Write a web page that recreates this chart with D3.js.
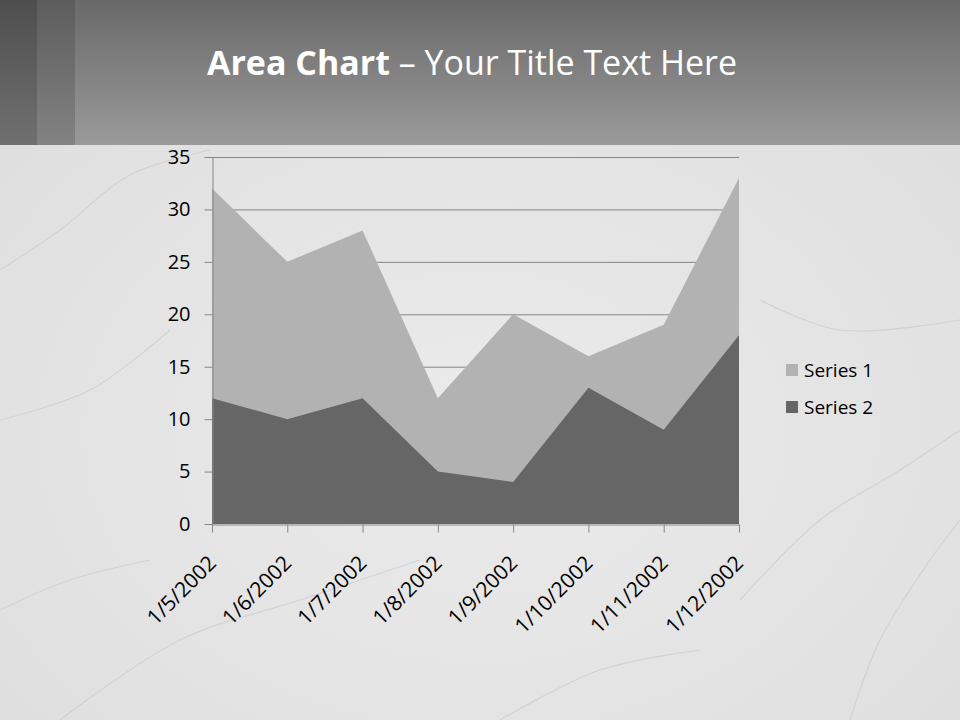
<!DOCTYPE html>
<html><head><meta charset="utf-8">
<script src="https://cdn.jsdelivr.net/npm/d3@7"></script>
<style>html,body{margin:0;padding:0;background:#e5e5e5;}svg{display:block;}</style>
</head><body>
<svg id="c" width="960" height="720"></svg>
<script>
const categories = ["1/5/2002","1/6/2002","1/7/2002","1/8/2002","1/9/2002","1/10/2002","1/11/2002","1/12/2002"];
const series1 = [32, 25, 28, 12, 20, 16, 19, 33];
const series2 = [12, 10, 12, 5, 4, 13, 9, 18];
const seriesNames = ["Series 1", "Series 2"];
const seriesColors = ["#b2b2b2", "#666666"];
const yTicks = [0, 5, 10, 15, 20, 25, 30, 35];

const FONT = "'Open Sans', Lato, sans-serif";
const svg = d3.select("#c");
const defs = svg.append("defs");

// background (marble-like light grey)
const bg = defs.append("radialGradient").attr("id","bg").attr("cx","50%").attr("cy","60%").attr("r","70%");
bg.append("stop").attr("offset","0%").attr("stop-color","#ebebeb");
bg.append("stop").attr("offset","100%").attr("stop-color","#dedede");
svg.append("rect").attr("width",960).attr("height",720).attr("fill","url(#bg)");

// subtle veins
const veins = [
  [[0,270],[60,230],[130,175],[210,150]],
  [[0,420],[90,390],[170,330]],
  [[60,720],[180,640],[300,600],[420,560]],
  [[740,600],[820,520],[900,470],[960,430]],
  [[760,300],[840,330],[960,320]],
  [[850,720],[880,640],[930,560],[960,520]],
  [[0,610],[70,580],[150,560]],
  [[500,720],[600,670],[700,650]]
];
const vl = d3.line().curve(d3.curveCatmullRom);
svg.append("g").selectAll("path").data(veins).join("path")
  .attr("d", vl).attr("fill","none").attr("stroke","#d2d2d2").attr("stroke-width",1.2);

// header
const hg = defs.append("linearGradient").attr("id","hg").attr("x1",0).attr("y1",0).attr("x2",0).attr("y2",1);
hg.append("stop").attr("offset","0%").attr("stop-color","#696969");
hg.append("stop").attr("offset","100%").attr("stop-color","#9a9a9a");
const hg1 = defs.append("linearGradient").attr("id","hg1").attr("x1",0).attr("y1",0).attr("x2",0).attr("y2",1);
hg1.append("stop").attr("offset","0%").attr("stop-color","#4e4e4e");
hg1.append("stop").attr("offset","100%").attr("stop-color","#707070");
const hg2 = defs.append("linearGradient").attr("id","hg2").attr("x1",0).attr("y1",0).attr("x2",0).attr("y2",1);
hg2.append("stop").attr("offset","0%").attr("stop-color","#5c5c5c");
hg2.append("stop").attr("offset","100%").attr("stop-color","#838383");
svg.append("rect").attr("x",0).attr("y",0).attr("width",960).attr("height",145).attr("fill","url(#hg)");
svg.append("rect").attr("x",0).attr("y",0).attr("width",37).attr("height",145).attr("fill","url(#hg1)");
svg.append("rect").attr("x",37).attr("y",0).attr("width",38).attr("height",145).attr("fill","url(#hg2)");

const title = svg.append("text").attr("x",207).attr("y",75).attr("fill","#ffffff")
  .style("font-family",FONT).style("font-size","32px");
title.append("tspan").attr("font-weight","bold").text("Area Chart");
title.append("tspan").text(" \u2013 Your Title Text Here");
// fit title width to 530px
const tw = title.node().getComputedTextLength();
title.style("font-size", (32 * 530 / tw).toFixed(2) + "px");

// chart
const x0 = 212, x1 = 739, yTop = 157, yBot = 524;
const x = d3.scalePoint().domain(categories).range([x0, x1]).padding(0);
const y = d3.scaleLinear().domain([0, 35]).range([yBot, yTop]);

// gridlines
svg.append("g").selectAll("line").data(yTicks.filter(d=>d>0)).join("line")
  .attr("x1",x0).attr("x2",x1).attr("y1",d=>y(d)+0.5).attr("y2",d=>y(d)+0.5)
  .attr("stroke","#868686").attr("stroke-width",1);

const area = d3.area().x((d,i)=>x(categories[i])).y0(y(0)).y1(d=>y(d));
[series1, series2].forEach((s,i)=>{
  svg.append("path").datum(s).attr("d",area).attr("fill",seriesColors[i]);
});

// y axis
const ya = svg.append("g").attr("transform",`translate(${x0+0.5},0)`)
  .call(d3.axisLeft(y).tickValues(yTicks).tickSize(8).tickPadding(14).tickSizeOuter(0));
ya.select(".domain").attr("stroke","#868686");
ya.selectAll(".tick line").attr("stroke","#868686");
ya.selectAll(".tick text").attr("fill","#000").style("font-family",FONT).style("font-size","20px");

// x axis
const xa = svg.append("g").attr("transform",`translate(0,${yBot+0.5})`)
  .call(d3.axisBottom(x).tickSize(8).tickSizeOuter(0));
xa.select(".domain").attr("stroke","#868686");
xa.selectAll(".tick line").attr("stroke","#868686");
xa.selectAll(".tick text").attr("fill","#000").style("font-family",FONT).style("font-size","21px")
  .attr("text-anchor","end").attr("dy",null)
  .attr("transform","translate(5,40) rotate(-45)").attr("y",0).attr("x",0);

// legend
const lg = svg.append("g").attr("transform","translate(786,370)");
seriesNames.forEach((n,i)=>{
  const g = lg.append("g").attr("transform",`translate(0,${i*37})`);
  g.append("rect").attr("x",0).attr("y",-6).attr("width",12).attr("height",12).attr("fill",seriesColors[i]);
  g.append("text").attr("x",18).attr("y",0).attr("dy","0.35em").attr("fill","#000")
    .style("font-family",FONT).style("font-size","19px").text(n);
});
</script>
</body></html>
